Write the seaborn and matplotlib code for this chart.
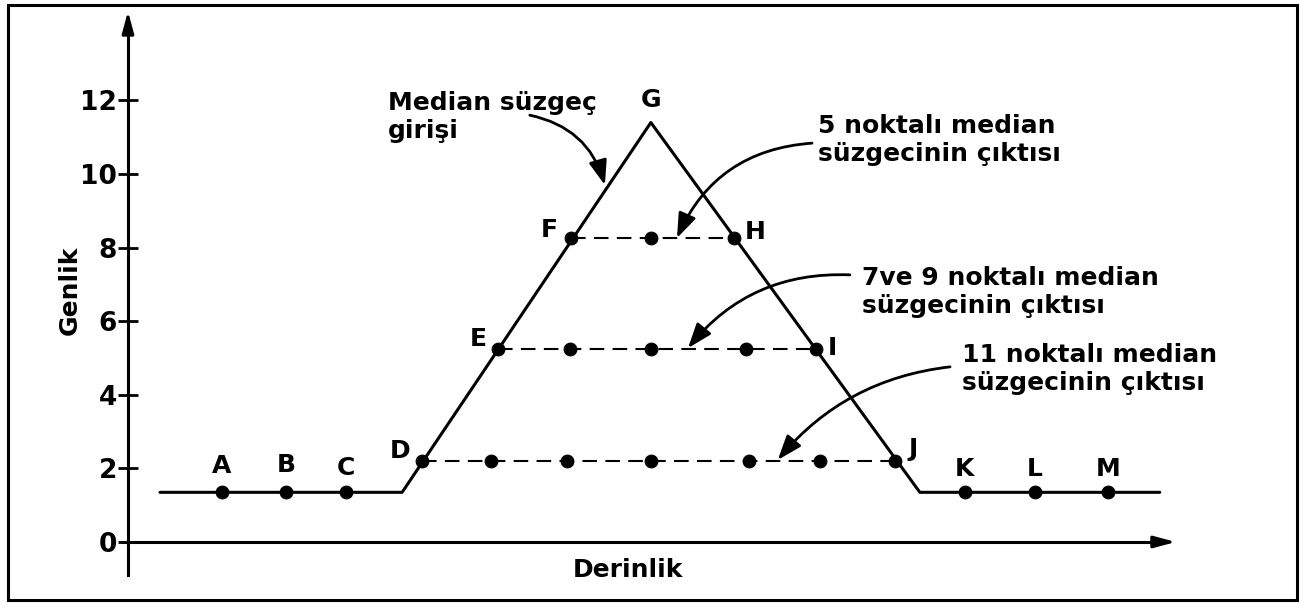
import matplotlib
matplotlib.use("Agg")
import matplotlib.pyplot as plt
import seaborn as sns
from matplotlib.patches import Rectangle

# signal (median filter input): piecewise line with peak G
signal_x = [0.87, 7.45, 14.21, 21.52, 28.04]
signal_y = [1.35, 1.35, 11.4, 1.35, 1.35]

# flat part points A, B, C and K, L, M
flat_x = [2.55, 4.29, 5.92, 22.74, 24.65, 26.63]
flat_y = [1.35] * 6

# outputs of the filters
out11_x = [7.99, 9.86, 11.93, 14.21, 16.88, 18.80, 20.85]
out11_y = [2.2] * 7
out79_x = [10.05, 12.01, 14.21, 16.79, 18.70]
out79_y = [5.25] * 5
out5_x = [12.05, 14.21, 16.47]
out5_y = [8.25] * 3

# letter labels and the point each one belongs to
letters = ["A", "B", "C", "D", "E", "F", "G", "H", "I", "J", "K", "L", "M"]
letter_x = [2.55, 4.29, 5.92, 7.99, 10.05, 12.05, 14.21, 16.47, 18.70, 20.85, 22.74, 24.65, 26.63]
letter_y = [1.35, 1.35, 1.35, 2.2, 5.25, 8.25, 11.4, 8.25, 5.25, 2.2, 1.35, 1.35, 1.35]

y_ticks = [0, 2, 4, 6, 8, 10, 12]

sns.set_style("white")
plt.rcParams["font.family"] = ["DejaVu Sans"]
plt.rcParams["font.weight"] = "bold"
plt.rcParams["text.color"] = "black"
plt.rcParams["axes.labelcolor"] = "black"
FS = 18

fig = plt.figure(figsize=(13.04, 6.03), dpi=100)
ax = fig.add_axes([0, 0, 1, 1])
ax.set_xlim(-3.478, 31.96)
ax.set_ylim(-1.658, 14.73)

# outer frame
fig.patches.append(Rectangle((8 / 1304, 3 / 603), 1289 / 1304, 595 / 603,
                             transform=fig.transFigure, fill=False,
                             edgecolor="black", linewidth=2.2))

# axes as arrows through zero
for side in ["top", "right"]:
    ax.spines[side].set_visible(False)
ax.spines["left"].set_position(("data", 0))
ax.spines["bottom"].set_position(("data", 0))
ax.spines["left"].set_bounds(-0.9, 14.2)
ax.spines["bottom"].set_bounds(-0.15, 28.2)
for side in ["left", "bottom"]:
    ax.spines[side].set_linewidth(2.2)
    ax.spines[side].set_color("black")
axis_arrow = dict(arrowstyle="-|>,head_length=1.3,head_width=0.35", lw=2.2, color="black")
ax.annotate("", xy=(0, 14.5), xytext=(0, 13.8), arrowprops=axis_arrow)
ax.annotate("", xy=(28.55, 0), xytext=(27.8, 0), arrowprops=axis_arrow)

ax.set_xticks([])
ax.set_yticks(y_ticks)
ax.set_yticklabels([str(t) for t in y_ticks], fontsize=19, fontweight="bold")
ax.tick_params(axis="y", direction="inout", length=14, width=2, pad=1, colors="black", left=True)

fig.text(70 / 1304, 1 - 290 / 603, "Genlik", rotation=90, ha="center", va="center",
         fontsize=FS, fontweight="bold")
fig.text(628 / 1304, 1 - 570 / 603, "Derinlik", ha="center", va="center",
         fontsize=FS, fontweight="bold")

# input signal
sns.lineplot(x=signal_x, y=signal_y, sort=False, estimator=None, color="black", linewidth=2.2, ax=ax)

# dashed output levels
for xs, ys in [(out11_x, out11_y), (out79_x, out79_y), (out5_x, out5_y)]:
    sns.lineplot(x=xs, y=ys, sort=False, estimator=None, color="black",
                 linewidth=1.5, linestyle=(0, (7, 4)), ax=ax)

# points
all_x = flat_x + out11_x + out79_x + out5_x
all_y = flat_y + out11_y + out79_y + out5_y
sns.scatterplot(x=all_x, y=all_y, color="black", s=85, edgecolor="black", zorder=5, ax=ax)

# letter labels (offsets in pixels from the point)
offsets = {"A": (0, 26), "B": (0, 27), "C": (0, 24), "D": (-22, 10), "E": (-20, 10),
           "F": (-22, 8), "G": (0, 23), "H": (21, 6), "I": (16, 1), "J": (18, 12),
           "K": (0, 23), "L": (0, 23), "M": (0, 23)}
for lab, lx, ly in zip(letters, letter_x, letter_y):
    ax.annotate(lab, xy=(lx, ly), xytext=offsets[lab], textcoords="offset pixels",
                ha="center", va="center", fontsize=FS, fontweight="bold", color="black")

# callouts
arrow_kw = dict(arrowstyle="-|>,head_length=1.5,head_width=0.55", lw=2.0, color="black",
                shrinkA=0, shrinkB=0)
callouts = [
    ("Median süzgeç\ngirişi", (7.07, 11.54), (10.92, 11.60), (12.96, 9.70), -0.3),
    ("5 noktalı median\nsüzgecinin çıktısı", (18.75, 10.92), (18.59, 10.84), (14.92, 8.26), 0.3),
    ("7ve 9 noktalı median\nsüzgecinin çıktısı", (19.95, 6.79), (19.62, 7.26), (15.22, 5.27), 0.25),
    ("11 noktalı median\nsüzgecinin çıktısı", (22.66, 4.70), (22.34, 4.76), (17.66, 2.23), 0.2),
]
for txt, tpos, start, end, rad in callouts:
    ax.text(tpos[0], tpos[1], txt, ha="left", va="center", fontsize=FS,
            fontweight="bold", linespacing=1.2, color="black")
    ax.annotate("", xy=end, xytext=start,
                arrowprops=dict(connectionstyle=f"arc3,rad={rad}", **arrow_kw))

fig.savefig("out.png", dpi=100)
